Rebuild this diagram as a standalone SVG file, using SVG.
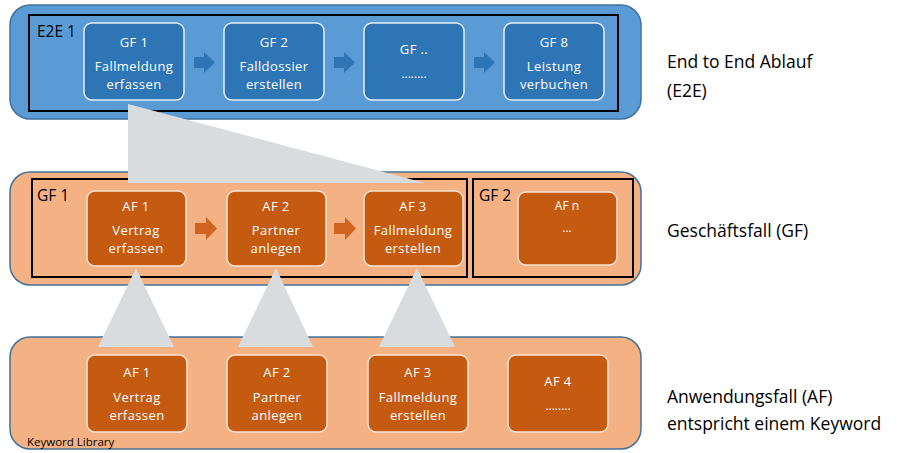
<svg xmlns="http://www.w3.org/2000/svg" width="909" height="453" viewBox="0 0 909 453">
  <style>
    text { font-family: "Open Sans", "Liberation Sans", Arial, sans-serif; }
    .band-blue { fill: #5b9bd5; stroke: #41719c; stroke-width: 1.5; }
    .band-orange { fill: #f4b183; stroke: #41719c; stroke-width: 1.5; }
    .frame { fill: none; stroke: #000; stroke-width: 2; }
    .gf { fill: #2e75b6; stroke: #e6eef7; stroke-width: 1.5; }
    .af { fill: #c55a11; stroke: #fbe3d3; stroke-width: 1.5; }
    .arrow-b { fill: #2e75b6; }
    .arrow-o { fill: #d0631f; }
    .funnel { fill: #d9dcdf; }
    .lbl { fill: #fff; font-size: 13px; letter-spacing: 0.4px; text-anchor: middle; }
    .small { fill: #fff; font-size: 12px; text-anchor: middle; }
    .title { fill: #000; font-size: 15.5px; }
    .side { fill: #000; font-size: 17.5px; }
    .lib { fill: #000; font-size: 11.5px; }
  </style>

  <!-- bands -->
  <rect class="band-blue" x="10" y="5" width="631" height="114" rx="20"/>
  <rect class="band-orange" x="10" y="172" width="631" height="113" rx="20"/>
  <rect class="band-orange" x="10" y="337" width="631" height="112" rx="20"/>

  <!-- End-to-end frame -->
  <g id="e2e1">
    <rect class="frame" x="29" y="15" width="589" height="96"/>
    <text class="title" x="37" y="37">E2E 1</text>
  </g>

  <g id="e2e-gf1">
    <rect class="gf" x="84" y="23" width="100" height="77" rx="8"/>
    <text class="lbl" x="134" y="47">GF 1</text>
    <text class="lbl" x="134" y="71">Fallmeldung</text>
    <text class="lbl" x="134" y="89">erfassen</text>
  </g>
  <g id="e2e-gf2">
    <rect class="gf" x="224" y="23" width="100" height="77" rx="8"/>
    <text class="lbl" x="274" y="47">GF 2</text>
    <text class="lbl" x="274" y="71">Falldossier</text>
    <text class="lbl" x="274" y="89">erstellen</text>
  </g>
  <g id="e2e-gfx">
    <rect class="gf" x="364" y="23" width="100" height="77" rx="8"/>
    <text class="lbl" x="414" y="54">GF ..</text>
    <text class="small" x="414" y="78">........</text>
  </g>
  <g id="e2e-gf8">
    <rect class="gf" x="504" y="23" width="100" height="77" rx="8"/>
    <text class="lbl" x="554" y="47">GF 8</text>
    <text class="lbl" x="554" y="71">Leistung</text>
    <text class="lbl" x="554" y="89">verbuchen</text>
  </g>

  <!-- Geschäftsfall frames -->
  <g id="gf1">
    <rect class="frame" x="32" y="179" width="435" height="98"/>
    <text class="title" x="37" y="201">GF 1</text>
  </g>
  <g id="gf2">
    <rect class="frame" x="473" y="179" width="160" height="98"/>
    <text class="title" x="479" y="201">GF 2</text>
  </g>

  <g id="gf-af1">
    <rect class="af" x="87" y="191" width="99" height="75" rx="8"/>
    <text class="lbl" x="136" y="211">AF 1</text>
    <text class="lbl" x="136" y="235">Vertrag</text>
    <text class="lbl" x="136" y="253">erfassen</text>
  </g>
  <g id="gf-af2">
    <rect class="af" x="227" y="191" width="99" height="75" rx="8"/>
    <text class="lbl" x="276" y="211">AF 2</text>
    <text class="lbl" x="276" y="235">Partner</text>
    <text class="lbl" x="276" y="253">anlegen</text>
  </g>
  <g id="gf-af3">
    <rect class="af" x="364" y="191" width="99" height="75" rx="8"/>
    <text class="lbl" x="413" y="211">AF 3</text>
    <text class="lbl" x="413" y="235">Fallmeldung</text>
    <text class="lbl" x="413" y="253">erstellen</text>
  </g>
  <g id="gf-afn">
    <rect class="af" x="518" y="192" width="99" height="73" rx="8"/>
    <text class="small" x="567" y="210">AF n</text>
    <text class="small" x="567" y="232">...</text>
  </g>

  <!-- Keyword library -->
  <g id="kw-af1">
    <rect class="af" x="87" y="355" width="100" height="77" rx="8"/>
    <text class="lbl" x="137" y="377">AF 1</text>
    <text class="lbl" x="137" y="402">Vertrag</text>
    <text class="lbl" x="137" y="420">erfassen</text>
  </g>
  <g id="kw-af2">
    <rect class="af" x="227" y="355" width="100" height="77" rx="8"/>
    <text class="lbl" x="277" y="377">AF 2</text>
    <text class="lbl" x="277" y="402">Partner</text>
    <text class="lbl" x="277" y="420">anlegen</text>
  </g>
  <g id="kw-af3">
    <rect class="af" x="368" y="355" width="100" height="77" rx="8"/>
    <text class="lbl" x="418" y="377">AF 3</text>
    <text class="lbl" x="418" y="402">Fallmeldung</text>
    <text class="lbl" x="418" y="420">erstellen</text>
  </g>
  <g id="kw-af4">
    <rect class="af" x="508" y="355" width="100" height="77" rx="8"/>
    <text class="lbl" x="558" y="386">AF 4</text>
    <text class="small" x="558" y="410">........</text>
  </g>
  <text class="lib" x="27" y="446">Keyword Library</text>

  <!-- connectors: flow arrows and expansion funnels -->
  <g id="connectors">
    <path class="arrow-b" d="M194,57 H204 V52 L215,62.5 L204,73 V68 H194 Z"/>
    <path class="arrow-b" d="M334,57 H344 V52 L355,62.5 L344,73 V68 H334 Z"/>
    <path class="arrow-b" d="M474,57 H484 V52 L495,62.5 L484,73 V68 H474 Z"/>
    <path class="arrow-o" d="M195,223 H206 V217 L217,228.5 L206,240 V234 H195 Z"/>
    <path class="arrow-o" d="M334,223 H345 V217 L356,228.5 L345,240 V234 H334 Z"/>
    <polygon class="funnel" points="128,104 425,183 128,183"/>
    <polygon class="funnel" points="136,268 174,347 98,347"/>
    <polygon class="funnel" points="276,268 313,347 238,347"/>
    <polygon class="funnel" points="417,268 455,347 379,347"/>
  </g>

  <!-- level descriptions -->
  <text class="side" x="667" y="68">End to End Ablauf</text>
  <text class="side" x="667" y="97">(E2E)</text>
  <text class="side" x="667" y="237">Geschäftsfall (GF)</text>
  <text class="side" x="667" y="403">Anwendungsfall (AF)</text>
  <text class="side" x="667" y="430">entspricht einem Keyword</text>
</svg>
